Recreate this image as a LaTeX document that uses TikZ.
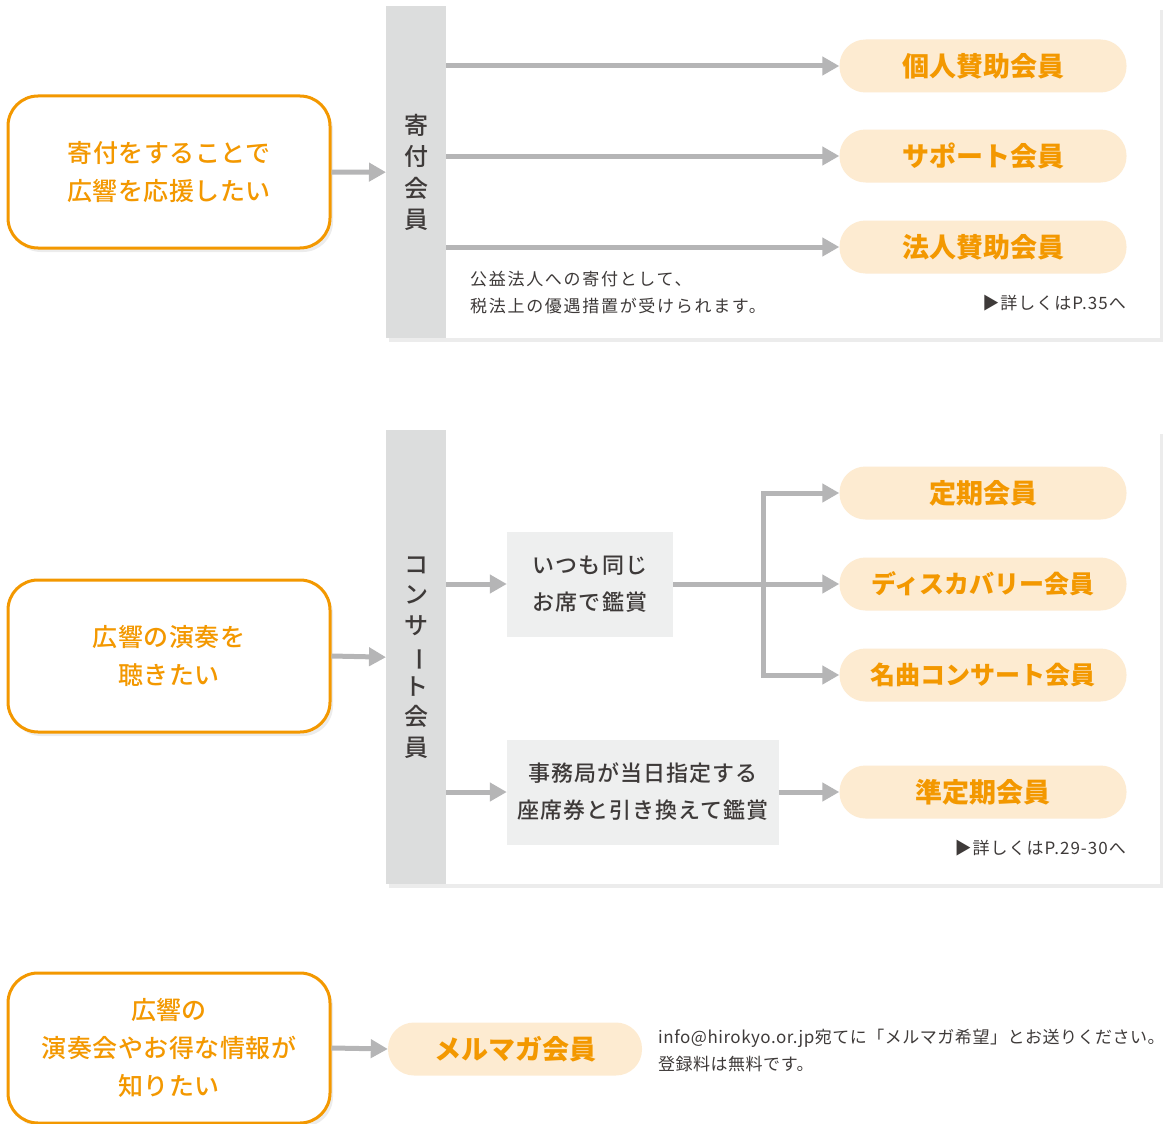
\documentclass[tikz,border=0pt]{standalone}
\usepackage{fontspec}
\setmainfont{Noto Sans CJK JP}
\newfontfamily\jpmed{Noto Sans CJK JP Medium}
\usetikzlibrary{arrows.meta, shadows, positioning}
\definecolor{hkorange}{HTML}{F39800}
\definecolor{pillfill}{HTML}{FDEBD1}
\definecolor{barfill}{HTML}{DCDDDD}
\definecolor{seatfill}{HTML}{EEEFEF}
\definecolor{linkgray}{HTML}{B5B5B6}
\definecolor{ink}{HTML}{3E3A39}

\begin{document}
\begin{tikzpicture}[x=1pt, y=-1pt,
  wish/.style={draw=hkorange, line width=3pt, fill=white, rounded corners=30pt,
    minimum width=322pt, minimum height=152pt, align=center, text=hkorange,
    font=\jpmed\fontsize{25}{38}\selectfont\addfontfeatures{LetterSpace=2},
    drop shadow={shadow xshift=3pt, shadow yshift=-4pt, opacity=0.15}},
  panel/.style={fill=white, anchor=north west, minimum width=774pt,
    drop shadow={shadow xshift=3pt, shadow yshift=-4pt, opacity=0.15}},
  bar/.style={fill=barfill, anchor=north west, minimum width=60pt, align=center,
    text=ink, font=\jpmed\fontsize{24}{31.5}\selectfont},
  pill/.style={fill=pillfill, rounded corners=26pt, minimum width=287pt,
    minimum height=53pt, text=hkorange, font=\fontsize{27}{30}\selectfont\bfseries},
  seat/.style={fill=seatfill, minimum height=105pt, align=center, text=ink,
    font=\jpmed\fontsize{22}{37}\selectfont\addfontfeatures{LetterSpace=5}},
  note/.style={align=left, text=ink, inner sep=0pt,
    font=\fontsize{17}{27}\selectfont\addfontfeatures{LetterSpace=10}},
  flow/.style={draw=linkgray, line width=5pt, -{Triangle[length=17pt, width=18pt]}}
]
\useasboundingbox (0,0) rectangle (1163,1124);

% donation
\node[panel, minimum height=332pt] (panelA) at (386,6) {};
\node[bar, minimum height=332pt] (kifu) at (386,6) {寄\\付\\会\\員};
\node[wish] (wishA) at (169,172) {寄付をすることで\\広響を応援したい};
\node[pill] (kojin) at (983,66) {個人賛助会員};
\node[pill] (support) at (983,156) {サポート会員};
\node[pill] (houjin) at (983,247) {法人賛助会員};
\node[note, anchor=west] (zeisei) at (470,293) {公益法人への寄付として、\\税法上の優遇措置が受けられます。};
\node[note, anchor=east, font=\fontsize{17}{27}\selectfont\addfontfeatures{LetterSpace=6}] (pageA) at (1126,303) {▶詳しくはP.35へ};

\draw[flow] (wishA.east) -- (kifu.west);
\draw[flow] (kifu.east |- kojin) -- (kojin.west);
\draw[flow] (kifu.east |- support) -- (support.west);
\draw[flow] (kifu.east |- houjin) -- (houjin.west);

% concert
\node[panel, minimum height=454pt] (panelB) at (386,430) {};
\node[bar, minimum height=454pt, font=\jpmed\fontsize{24}{30.5}\selectfont] (concert) at (386,430)
  {コ\\ン\\サ\\\rotatebox[origin=c]{-90}{ー}\\ト\\会\\員};
\node[wish] (wishB) at (169,656) {広響の演奏を\\聴きたい};
\node[seat, minimum width=166pt] (onaji) at (590,584) {いつも同じ\\お席で鑑賞};
\node[seat, minimum width=272pt] (jimu) at (643,792) {事務局が当日指定する\\座席券と引き換えて鑑賞};
\node[pill] (teiki) at (983,493) {定期会員};
\node[pill, font=\fontsize{25}{30}\selectfont\bfseries] (discovery) at (983,584) {ディスカバリー会員};
\node[pill, font=\fontsize{25}{30}\selectfont\bfseries] (meikyoku) at (983,675) {名曲コンサート会員};
\node[pill] (juntei) at (983,792) {準定期会員};
\node[note, anchor=east, font=\fontsize{17}{27}\selectfont\addfontfeatures{LetterSpace=6}] (pageB) at (1126,848) {▶詳しくはP.29-30へ};
\coordinate (fork) at (763,584);

\draw[flow] (wishB.east) -- (concert.west);
\draw[flow] (concert.east |- onaji) -- (onaji.west);
\draw[flow] (concert.east |- jimu) -- (jimu.west);
\draw[flow] (onaji.east) -- (discovery.west);
\draw[flow] (fork) |- (teiki.west);
\draw[flow] (fork) |- (meikyoku.west);
\draw[flow] (jimu.east) -- (juntei.west);

% mail magazine
\node[wish, minimum height=150pt] (wishC) at (169,1048) {広響の\\演奏会やお得な情報が\\知りたい};
\node[pill, minimum width=254pt] (mail) at (515,1049) {メルマガ会員};
\node[note, anchor=west, font=\fontsize{17}{27}\selectfont\addfontfeatures{LetterSpace=3}] (mailnote) at (658,1050) {info@hirokyo.or.jp宛てに「メルマガ希望」とお送りください。\\登録料は無料です。};

\draw[flow] (wishC.east) -- (mail.west);
\end{tikzpicture}
\end{document}
